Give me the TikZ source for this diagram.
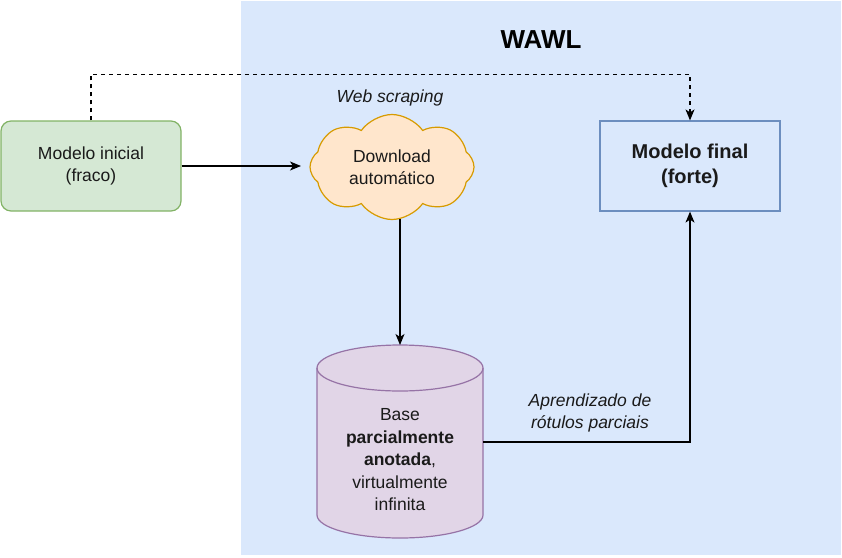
\documentclass[tikz,border=0pt]{standalone}
\usepackage{fontspec}
\setmainfont{Liberation Sans}
\usetikzlibrary{shapes.symbols,arrows.meta,positioning}
\definecolor{bgblue}{HTML}{DAE8FC}
\definecolor{greenf}{HTML}{D5E8D4}
\definecolor{greend}{HTML}{82B366}
\definecolor{orangef}{HTML}{FFE6CC}
\definecolor{oranged}{HTML}{D79B00}
\definecolor{bluef}{HTML}{DAE8FC}
\definecolor{blued}{HTML}{6C8EBF}
\definecolor{purplef}{HTML}{E1D5E7}
\definecolor{purpled}{HTML}{9673A6}
\definecolor{txt}{HTML}{1A1A1A}
\tikzset{
  lbl/.style={font=\fontsize{17.5}{22.5}\selectfont, text=txt, align=center},
  conn/.style={line width=1.3pt, -{Stealth[length=11pt,width=9pt,inset=3pt]}},
  boxbase/.style={line width=1.2pt, minimum width=180pt, minimum height=90pt, inner sep=0pt}
}
\begin{document}
\begin{tikzpicture}[x=1pt,y=-1pt]
\useasboundingbox (0,0) rectangle (842,557);
% background panel
\fill[bgblue] (241,1) rectangle (841,555);
\node[font=\fontsize{26}{30}\selectfont\bfseries, text=black] (title) at (541,40) {WAWL};

% initial model
\node[boxbase, lbl, draw=greend, fill=greenf, rounded corners=10pt] (init) at (91,166) {Modelo inicial\\(fraco)};

% cloud
\node[cloud, cloud puffs=8, cloud puff arc=110, aspect=1.6, draw=oranged, fill=orangef, line width=1.2pt,
      minimum width=164pt, minimum height=105pt, inner sep=0pt, lbl] (cloud) at (392,167) {Download\\automático};
\coordinate (cloudin) at (301,166);
\coordinate (cloudout) at (400,219);
\node[lbl, font=\fontsize{17.5}{22.5}\selectfont\itshape] (webl) at (390,98) {Web scraping};

% final model
\node[boxbase, lbl, draw=blued, fill=bluef, font=\fontsize{20}{25}\selectfont\bfseries] (final) at (690,166) {Modelo final\\(forte)};

% cylinder
\coordinate (dbtop) at (400,345);
\coordinate (dbright) at (483,442);
\filldraw[fill=purplef, draw=purpled, line width=1.2pt]
  (317,368) -- (317,515) arc[start angle=180, end angle=360, x radius=83, y radius=-23]
  -- (483,368) arc[start angle=0, end angle=-180, x radius=83, y radius=23] -- cycle;
\draw[purpled, line width=1.2pt] (317,368) arc[start angle=180, end angle=360, x radius=83, y radius=-23];
\node[lbl] (db) at (400,460) {Base\\\textbf{parcialmente}\\\textbf{anotada},\\virtualmente\\infinita};

\node[lbl, font=\fontsize{17.5}{22.5}\selectfont\itshape] (aprl) at (590,413) {Aprendizado de\\rótulos parciais};

% connectors
\draw[conn] (init.east) -- (cloudin);
\draw[conn] (cloudout) -- (dbtop);
\draw[conn] (dbright) -| (final.south);
\draw[conn, dash pattern=on 4pt off 4pt] (init.north) -- ++(0,-46) -| (final.north);
\end{tikzpicture}
\end{document}
